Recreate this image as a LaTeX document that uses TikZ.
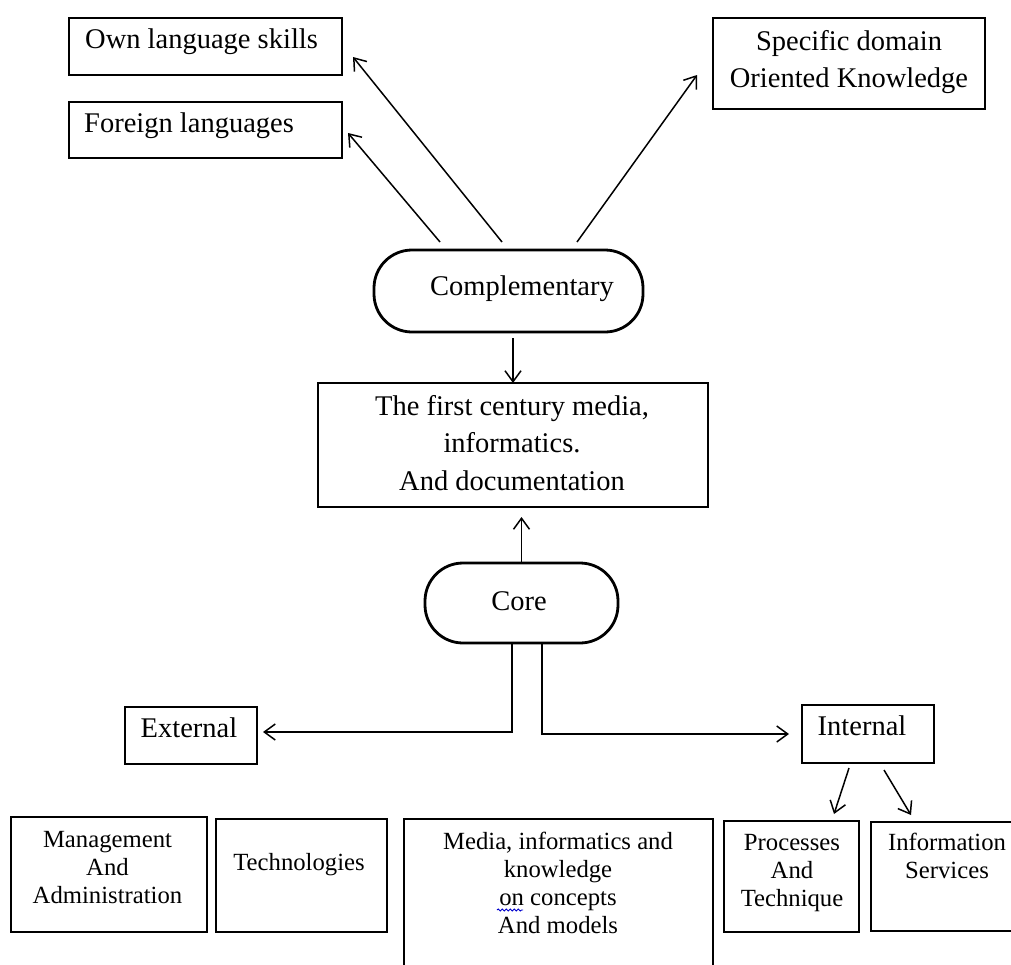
\documentclass[tikz,border=0pt]{standalone}
\usepackage{fontspec}
\setmainfont{Liberation Serif}
\usetikzlibrary{arrows.meta,calc,decorations.pathmorphing}

% centred block of lines whose first baseline is the box baseline
\newcommand\stacklines[1]{\begin{tabular}[t]{@{}c@{}}#1\end{tabular}}

\tikzset{
  box/.style={draw, line width=1.8pt, inner sep=0pt, outer sep=0pt},
  pill/.style={draw, line width=2.8pt, rounded corners=38pt, inner sep=0pt, outer sep=0pt},
  big/.style={font=\fontsize{28.5}{37.5}\selectfont, inner sep=0pt, anchor=base},
  small/.style={font=\fontsize{24.7}{28.3}\selectfont, inner sep=0pt, anchor=base},
  arr/.style={line width=1.5pt, -{Straight Barb[length=11pt,width=16pt,line width=1.5pt]}},
}

\begin{document}
\begin{tikzpicture}[x=1pt,y=-1pt]
\useasboundingbox (0,0) rectangle (1011,964);

% upper boxes
\node[box, minimum width=273pt, minimum height=57pt] (own) at (205.5,46.5) {};
\node[box, minimum width=273pt, minimum height=56pt] (foreign) at (205.5,130) {};
\node[box, minimum width=272pt, minimum height=91pt] (spec) at (849,63.5) {};
\node[big, anchor=base west] (ownT) at (85,48) {Own language skills};
\node[big, anchor=base west] (foreignT) at (84,132) {Foreign languages};
\node[big] (specT) at (849,50) {\stacklines{Specific domain\\Oriented Knowledge}};

% complementary
\node[pill, minimum width=269pt, minimum height=82pt] (comp) at (508.5,291) {};
\node[big] (compT) at (522,295) {Complementary};

% central box
\node[box, minimum width=390pt, minimum height=124pt] (first) at (513,445) {};
\node[big] (firstT) at (512,415) {\stacklines{The first century media,\\informatics.\\And documentation}};

% core
\node[pill, minimum width=193pt, minimum height=80pt] (core) at (521.5,603) {};
\node[big] (coreT) at (519,610) {Core};

% external / internal
\node[box, minimum width=132pt, minimum height=57pt] (ext) at (191,735.5) {};
\node[big] (extT) at (189,737) {External};
\node[box, minimum width=132pt, minimum height=58pt] (int) at (868,734) {};
\node[big] (intT) at (862,735) {Internal};

% bottom row
\node[box, minimum width=196pt, minimum height=115pt] (mgmt) at (109,874.5) {};
\node[box, minimum width=171pt, minimum height=113pt] (tech) at (301.5,875.5) {};
\node[box, minimum width=309pt, minimum height=161pt] (media) at (558.5,899.5) {};
\node[box, minimum width=135pt, minimum height=111pt] (proc) at (791.5,876.5) {};
\node[box, minimum width=152pt, minimum height=109pt] (info) at (947,876.5) {};
\node[small] (mgmtT) at (107.5,847) {\stacklines{Management\\And\\Administration}};
\node[small] (techT) at (299,870) {Technologies};
\node[small] (mediaT) at (558,849) {\stacklines{Media, informatics and\\knowledge\\on concepts\\And models}};
\node[small] (procT) at (792,850) {\stacklines{Processes\\And\\Technique}};
\node[small] (infoT) at (947,850) {\stacklines{Information\\Services}};

% spell-check mark under "on"
\draw[blue!80!black, line width=0.9pt, decorate,
      decoration={snake, amplitude=1pt, segment length=4pt}] (497,910) -- (523,910);

% connectors
\draw[arr] ([shift={(-68.5pt,8pt)}]comp.north) -- ([shift={(6pt,-3pt)}]foreign.east);
\draw[arr] ([shift={(-6.5pt,8pt)}]comp.north) -- ([shift={(11pt,-10.5pt)}]own.east);
\draw[arr] ([shift={(68.5pt,8pt)}]comp.north) -- ([shift={(-16pt,-11.5pt)}]spec.west);
\draw[arr] ($(comp.south -| first.north)+(0,6)$) -- (first.north);
\draw[arr] (core.north) -- ($(core.north |- first.south)+(0,10)$);
\draw[arr] ([xshift=-9.5pt]core.south) |- ([shift={(6pt,3.5pt)}]ext.east);
\draw[arr] ([xshift=20.5pt]core.south) |- ([xshift=-13pt]int.west);
\draw[arr] ([shift={(-19pt,-5pt)}]int.south) -- ([shift={(42.5pt,7pt)}]proc.north);
\draw[arr] ([shift={(16pt,-7pt)}]int.south) -- ([shift={(-36pt,7pt)}]info.north);
\end{tikzpicture}
\end{document}
